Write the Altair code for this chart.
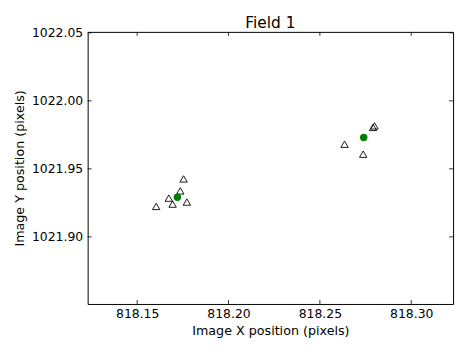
import altair as alt
import pandas as pd

# Triangles: individual measurements
tri_x = [818.1604, 818.1673, 818.1694, 818.1736, 818.1772, 818.1754,
         818.2635, 818.2737, 818.2791, 818.2799]
tri_y = [1021.9224, 1021.9285, 1021.9241, 1021.9338, 1021.9256, 1021.9426,
         1021.9681, 1021.9608, 1021.9805, 1021.9816]
# Green dots: cluster means
mean_x = [818.1720, 818.2740]
mean_y = [1021.9292, 1021.9730]

x_ticks = [818.15, 818.20, 818.25, 818.30]
y_ticks = [1021.90, 1021.95, 1022.00, 1022.05]
x_domain = [818.1229, 818.3229]
y_domain = [1021.8507, 1022.0507]

W, H = 368.4, 274.3
FONT = "DejaVu Sans"

tri = pd.DataFrame({"x": tri_x, "y": tri_y})
means = pd.DataFrame({"x": mean_x, "y": mean_y})
xt = pd.DataFrame({"x": x_ticks})
yt = pd.DataFrame({"y": y_ticks})

xs = alt.Scale(domain=x_domain, nice=False, zero=False)
ys = alt.Scale(domain=y_domain, nice=False, zero=False)

x_axis = alt.Axis(values=x_ticks, format=".2f", title="Image X position (pixels)",
                  ticks=False, domain=False, grid=False,
                  labelPadding=4, titlePadding=4)
y_axis = alt.Axis(values=y_ticks, format=".2f", title="Image Y position (pixels)",
                  ticks=False, domain=False, grid=False,
                  labelPadding=5, titlePadding=5)

X = alt.X("x:Q", scale=xs, axis=x_axis)
Y = alt.Y("y:Q", scale=ys, axis=y_axis)

tri_layer = alt.Chart(tri).mark_point(
    shape="triangle-up", filled=False, color="black", size=55, strokeWidth=0.9, opacity=1
).encode(x=X, y=Y)

mean_layer = alt.Chart(means).mark_point(
    shape="circle", filled=True, color="#008000", size=56, opacity=1
).encode(x=X, y=Y)

tick_style = dict(color="black", strokeWidth=0.8)
bottom_ticks = alt.Chart(xt).mark_rule(**tick_style).encode(
    x=X, y=alt.value(H), y2=alt.value(H - 4))
top_ticks = alt.Chart(xt).mark_rule(**tick_style).encode(
    x=X, y=alt.value(0), y2=alt.value(4))
left_ticks = alt.Chart(yt).mark_rule(**tick_style).encode(
    y=Y, x=alt.value(0), x2=alt.value(4))
right_ticks = alt.Chart(yt).mark_rule(**tick_style).encode(
    y=Y, x=alt.value(W), x2=alt.value(W - 4))

chart = alt.layer(
    tri_layer, bottom_ticks, top_ticks, left_ticks, right_ticks, mean_layer
).properties(
    width=W, height=H,
    background="white",
    title=alt.TitleParams("Field 1", font=FONT, fontSize=15.5, fontWeight="normal",
                          color="black", offset=5, dy=9.5, anchor="middle"),
    autosize=alt.AutoSizeParams(type="none"),
    padding={"left": 80.3, "top": 22.7, "right": 10, "bottom": 40},
).configure_view(
    stroke="black", strokeWidth=1
).configure_axis(
    labelFont=FONT, labelFontSize=12.5, labelColor="black",
    titleFont=FONT, titleFontSize=12.8, titleFontWeight="normal", titleColor="black",
)

chart.save("out.html", embed_options={"renderer": "svg", "actions": False})
